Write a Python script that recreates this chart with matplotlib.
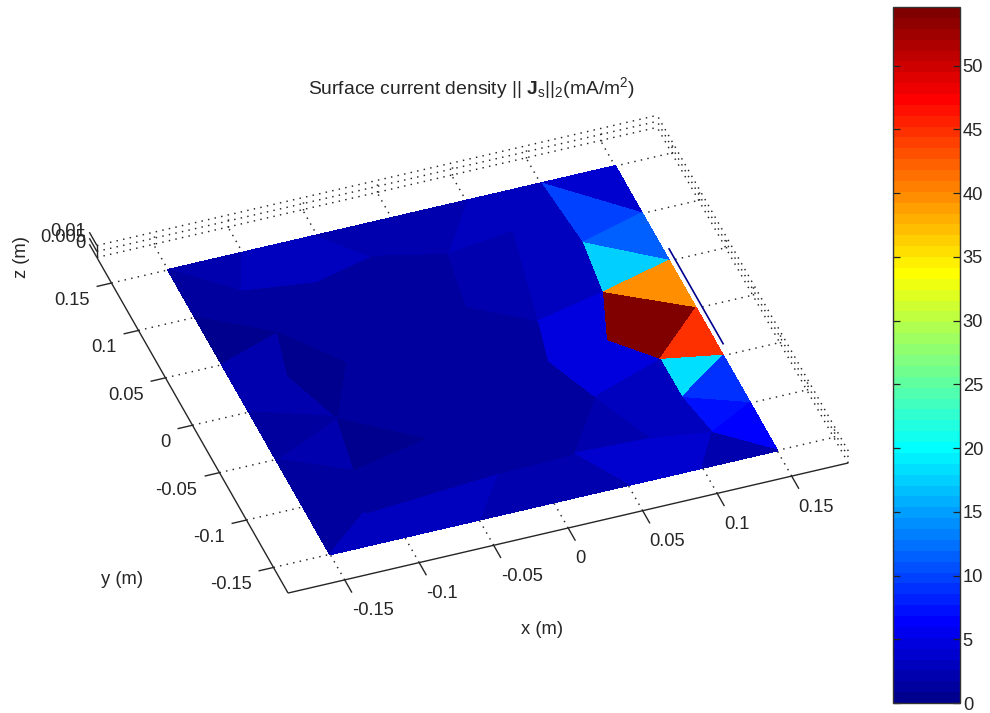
import numpy as np
import matplotlib
matplotlib.use("Agg")
import matplotlib.pyplot as plt
from matplotlib.colors import LinearSegmentedColormap, Normalize
from matplotlib.cm import ScalarMappable
from matplotlib.transforms import Affine2D

plt.rcParams['font.family'] = ['Liberation Sans', 'DejaVu Sans']
plt.rcParams['mathtext.fontset'] = 'custom'
plt.rcParams['mathtext.rm'] = 'Liberation Sans'
plt.rcParams['mathtext.it'] = 'Liberation Sans'
plt.rcParams['mathtext.bf'] = 'Liberation Sans:bold'

# ---- data ----
node_names = ["T0","T1","T2","T3","T4","T5","T6","R1","R2","R3","R4","R5","R6",
              "B5","B4","B3","B2","B1","B0","L5","L4","L3","L2","L1",
              "a","b","c","d","e","f","g","h","i","j","k","l","m","n","o","p","q","r","s","t","u","v","w","x","y"]
node_x = [-0.15,-0.10,-0.05,0.0,0.05,0.10,0.15,0.15,0.15,0.15,0.15,0.15,0.15,
          0.10,0.05,0.0,-0.05,-0.10,-0.15,-0.15,-0.15,-0.15,-0.15,-0.15,
          -0.1137,-0.0664,-0.0239,0.0202,0.0666,0.0131,0.0511,0.1044,0.0994,0.0856,0.1111,0.1113,0.1173,
          0.0435,0.0592,0.0785,0.0278,-0.0236,-0.0515,-0.0996,-0.0766,-0.1144,-0.1062,-0.1071,-0.1160]
node_y = [0.15,0.15,0.15,0.15,0.15,0.15,0.15,0.10,0.05,0.0,-0.05,-0.10,-0.15,
          -0.15,-0.15,-0.15,-0.15,-0.15,-0.15,-0.10,-0.05,0.0,0.05,0.10,
          0.1138,0.1054,0.1179,0.1036,0.1109,0.0503,0.0217,0.0855,0.0346,-0.0110,-0.0403,-0.0805,-0.1196,
          -0.0178,-0.0615,-0.1118,-0.1091,-0.1104,-0.0633,-0.0236,0.0250,0.0261,0.0674,-0.0778,-0.1189]
tri_nodes = ["T6 T5 R1","T5 R1 h","h R1 R2","h R2 i","i R2 R3","i R3 j","j R3 k","R3 R4 k","k R4 l",
             "l R4 R5","l R5 m","m R5 R6",
             "T5 h e","e h i","e i g","T4 T5 e","T4 e d","d e g","d g f",
             "g i j","g j n","n j k","n k o","o k l","o l m","o m p","o q p",
             "q p B4","p m B5","p B5 B4","m R6 B5","q B4 B3","r q B3","r B3 B2",
             "y B1 B2","y B2 r","x r y","L5 x y","L5 y B0","y B0 B1",
             "L4 t x","L4 x L5","t s x","s r x","s q r","s o q",
             "f g n","f n o","f o s","f s u","u s t",
             "T0 T1 a","T1 b a","T1 T2 b","T2 c b","T2 T3 c","T3 d c","T3 T4 d",
             "T0 a L1","a L1 w","a w b","b w u","b u f","b f c","c f d",
             "L1 w L2","L2 w v","L2 v L3","v t L3","w u v","u t v","L3 t L4"]
tri_values = [3.5,9.6,11.5,17.8,40,54,54,44.5,18,
              9.3,7.5,6,
              3.3,3.3,3.3,3.3,3.2,2.0,2.0,
              4.3,4.3,4.3,4.3,3.0,3.0,2.8,2.0,
              4.0,4.0,4.0,2.0,2.5,2.5,2.5,
              3.2,3.2,1.5,1.5,1.0,3.0,
              2.2,1.3,0.7,1.0,1.0,1.0,
              1.0,1.0,1.0,1.0,1.0,
              2.0,3.3,3.3,3.3,2.0,2.0,2.0,
              1.0,1.0,1.0,1.0,1.0,1.0,1.0,
              0.3,1.9,1.9,1.9,0.3,0.3,1.0]
x_ticks = [-0.15,-0.1,-0.05,0,0.05,0.1,0.15]
x_tick_labels = ["-0.15","-0.1","-0.05","0","0.05","0.1","0.15"]
y_ticks = [-0.15,-0.1,-0.05,0,0.05,0.1,0.15]
y_tick_labels = ["-0.15","-0.1","-0.05","0","0.05","0.1","0.15"]
z_ticks = [0,0.005,0.01]
z_tick_labels = ["0","0.005","0.01"]
wire_x = [0.15,0.15]
wire_y = [-0.05,0.05]
wire_z = 0.01
cbar_ticks = [0,5,10,15,20,25,30,35,40,45,50]
value_max = 54.6
xlim3 = (-0.188,0.188)
ylim3 = (-0.177,0.177)
zlim3 = (0,0.01)

# ---- MATLAB style jet with 64 levels ----
cmap = LinearSegmentedColormap.from_list("mjet",[
    (0.0,(0,0,0.5625)),(7/63,(0,0,1)),(23/63,(0,1,1)),(39/63,(1,1,0)),
    (55/63,(1,0,0)),(1.0,(0.5,0,0))],N=64)
norm = Normalize(0,value_max)

W,H = 990,713
fig = plt.figure(figsize=(W/100,H/100),dpi=100,facecolor='white')
ax = fig.add_axes([0,0,1,1])
ax.set_axis_off()
ax.set_xlim(0,W); ax.set_ylim(H,0)
ax.set_autoscale_on(False)

# orthographic view (pixels per metre)
VX = (1490,-346); VY = (-540,-948); VZ = (0,-1200); C = (472.6,360.2)
def P(x,y,z=0):
    return (C[0]+x*VX[0]+y*VY[0]+z*VZ[0], C[1]+x*VX[1]+y*VY[1]+z*VZ[1])
def plane(z=0):
    m = [[VX[0],VY[0],C[0]+z*VZ[0]],[VX[1],VY[1],C[1]+z*VZ[1]],[0,0,1]]
    return Affine2D(np.array(m,float))+ax.transData

ink = '#262626'
dot = dict(color='#262626',lw=1.05,ls=(0,(1,3.6)),zorder=1)
solid = dict(color=ink,lw=1.0,zorder=4,solid_capstyle='butt')
x0,x1 = xlim3; y0,y1 = ylim3

# floor and wall grids
for t in x_ticks:
    ax.plot([t,t],[y0,y1],transform=plane(0),**dot)
    a_,b_ = P(t,y1,0),P(t,y1,zlim3[1])
    ax.plot([a_[0],b_[0]],[a_[1],b_[1]],**dot)
for t in y_ticks:
    ax.plot([x0,x1],[t,t],transform=plane(0),**dot)
    a_,b_ = P(x1,t,0),P(x1,t,zlim3[1])
    ax.plot([a_[0],b_[0]],[a_[1],b_[1]],**dot)
for z in z_ticks:
    ax.plot([x0,x1],[y1,y1],transform=plane(z),**dot)
    ax.plot([x1,x1],[y0,y1],transform=plane(z),**dot)

# plate
idx = {n:i for i,n in enumerate(node_names)}
tris = [[idx[s] for s in t.split()] for t in tri_nodes]
ax.tripcolor(np.array(node_x),np.array(node_y),np.array(tris),facecolors=np.array(tri_values),
             cmap=cmap,norm=norm,transform=plane(0),edgecolors='face',linewidth=0.7,
             antialiased=False,zorder=2)
ax.set_xlim(0,W); ax.set_ylim(H,0)

# wire
ax.plot(wire_x,wire_y,transform=plane(wire_z),color='#00008f',lw=1.2,zorder=3)

# axes lines and ticks
ax.plot([x0,x1],[y0,y0],transform=plane(0),**solid)
ax.plot([x0,x0],[y0,y1],transform=plane(0),**solid)
a_,b_ = P(x0,y1,0),P(x0,y1,zlim3[1])
ax.plot([a_[0],b_[0]],[a_[1],b_[1]],**solid)
for t in x_ticks:
    ax.plot([t,t],[y0,y0-0.0134],transform=plane(0),**solid)
for t in y_ticks:
    ax.plot([x0,x0-0.01],[t,t],transform=plane(0),**solid)
for z in z_ticks:
    ax.plot([x0,x0],[y1,y1+0.014],transform=plane(z),**solid)

fs = 13.2
txt = dict(fontsize=fs,color=ink,zorder=6)
for t,l in zip(x_ticks,x_tick_labels):
    p = P(t,y0)
    ax.text(p[0]+7,p[1]+31,l,ha='left',va='center',**txt)
for t,l in zip(y_ticks,y_tick_labels):
    p = P(x0,t)
    ax.text(p[0]-22,p[1]+17.5,l,ha='right',va='center',**txt)
for z,l in zip(z_ticks,z_tick_labels):
    p = P(x0,y1,z)
    ax.text(p[0]-11,p[1]-13.5,l,ha='right',va='center',**txt)
ax.text(542,629,"x (m)",ha='center',va='center',**txt)
ax.text(122,580,"y (m)",ha='center',va='center',**txt)
ax.text(21,257,"z (m)",ha='center',va='center',rotation=90,**txt)
ax.text(472,88,r"Surface current density || $\mathbf{J}_{\mathrm{s}}$||$_{2}$(mA/m$^{2}$)",
        ha='center',va='center',fontsize=13.9,color=ink,zorder=6)

# colorbar
cax = fig.add_axes([893/W,(H-703)/H,67/W,696/H])
cb = fig.colorbar(ScalarMappable(norm=norm,cmap=cmap),cax=cax,ticks=cbar_ticks)
cb.outline.set_edgecolor('#333333'); cb.outline.set_linewidth(1.0)
cax.tick_params(axis='y',direction='in',left=True,right=True,length=5,width=0.9,
                color='#222222',labelsize=fs,labelcolor=ink,pad=2)
fig.savefig("out.png",dpi=100,facecolor='white')
